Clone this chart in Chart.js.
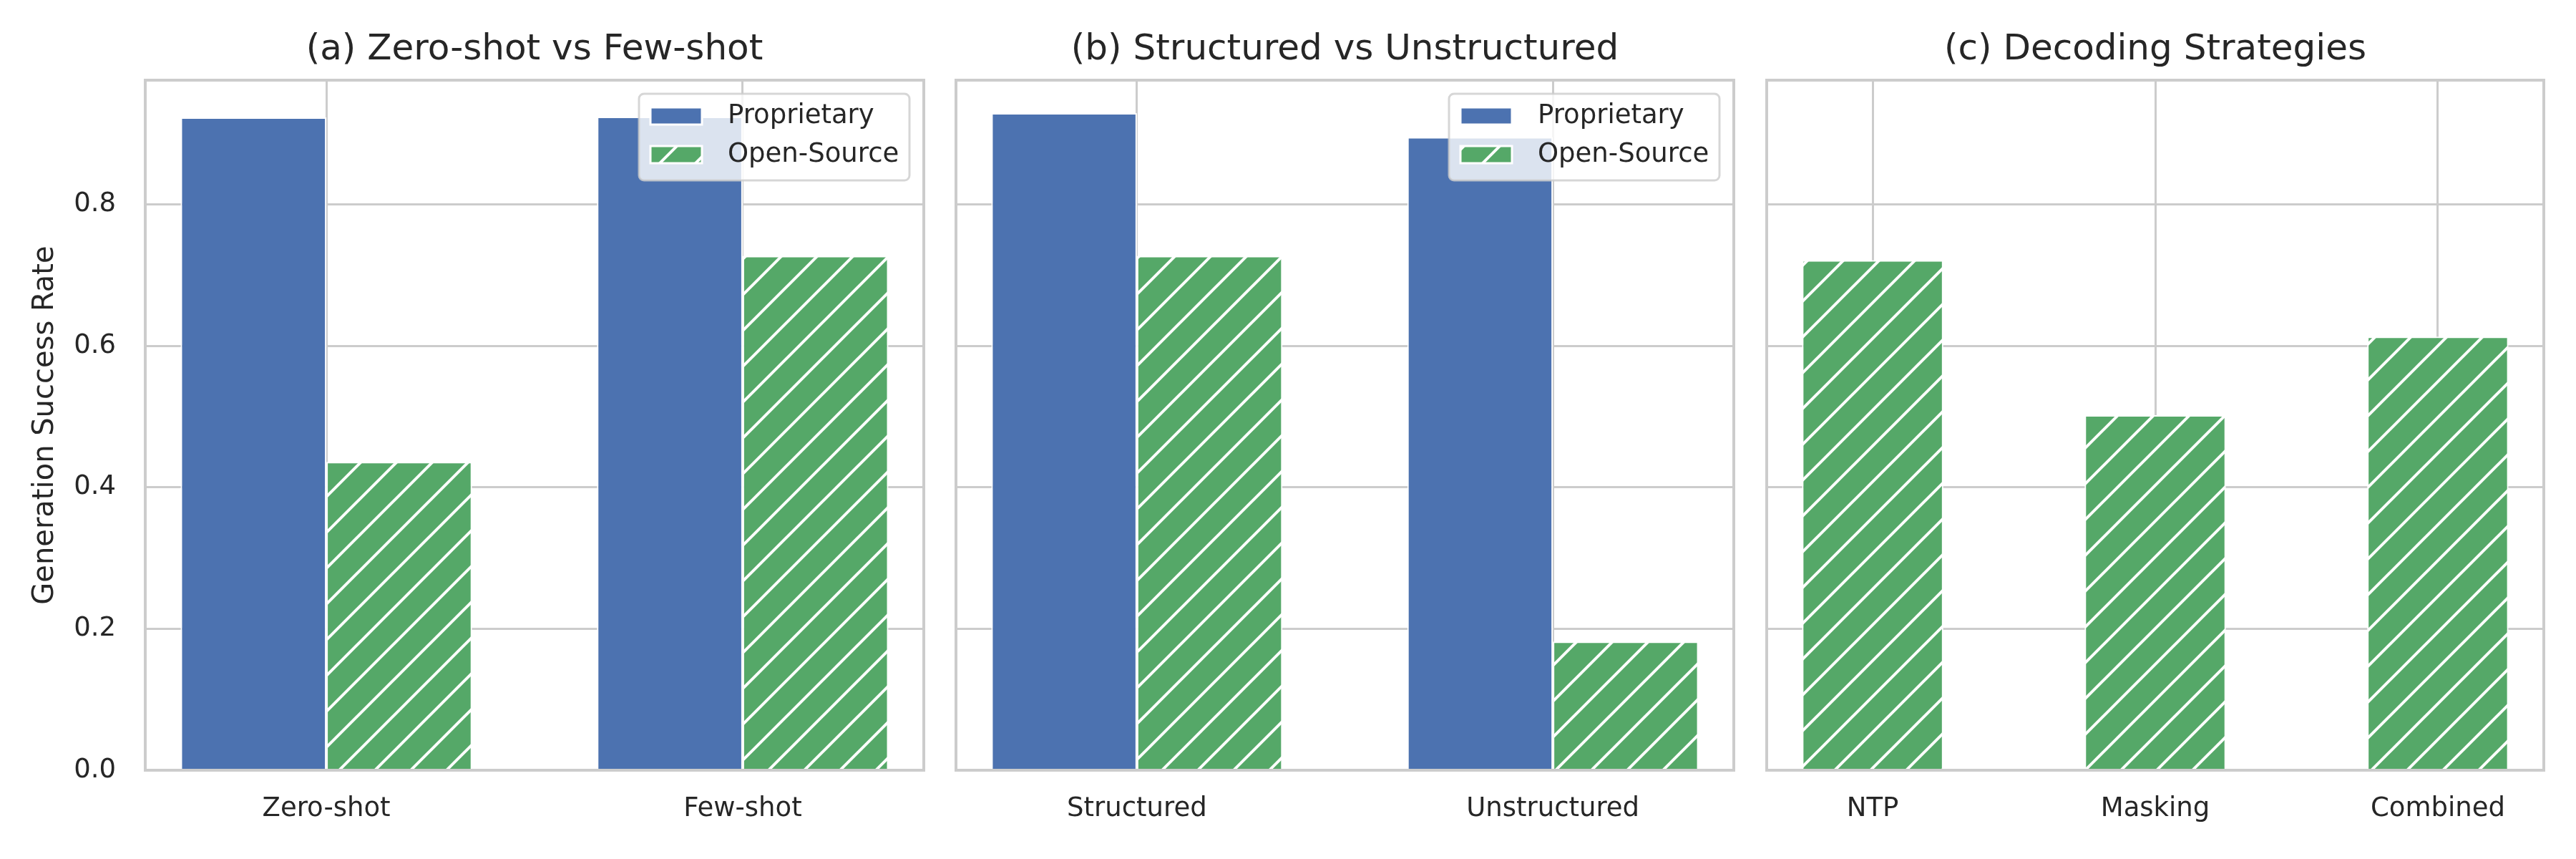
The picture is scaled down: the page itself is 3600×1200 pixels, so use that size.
<!DOCTYPE html>
<html lang="en">
<head>
  <meta charset="UTF-8" />
  <title>Generation Success Rate</title>
  <script src="https://cdn.jsdelivr.net/npm/chart.js"></script>
  <style>
    body { margin: 0; background: #fff; width: 3600px; height: 1200px; position: relative; overflow: hidden; }
    canvas { position: absolute; top: 0; }
  </style>
</head>
<body>
  <canvas id="chartA" width="1300" height="1200" style="left:0px"></canvas>
  <canvas id="chartB" width="1140" height="1200" style="left:1300px"></canvas>
  <canvas id="chartC" width="1160" height="1200" style="left:2440px"></canvas>
  <script>
    // data
    const seriesNames = ['Proprietary', 'Open-Source'];
    const shotCats = ['Zero-shot', 'Few-shot'];
    const shotProp = [0.923, 0.924];
    const shotOpen = [0.436, 0.727];
    const formatCats = ['Structured', 'Unstructured'];
    const formatProp = [0.929, 0.895];
    const formatOpen = [0.727, 0.182];
    const decodeCats = ['NTP', 'Masking', 'Combined'];
    const decodeOpen = [0.721, 0.502, 0.613];
    const yTicks = [0, 0.2, 0.4, 0.6, 0.8];
    const yMax = 0.9755;
    const titles = ['(a) Zero-shot vs Few-shot', '(b) Structured vs Unstructured', '(c) Decoding Strategies'];
    const yLabel = 'Generation Success Rate';

    const BLUE = '#4C72B0';
    const GREEN = '#55A868';
    const TEXT = '#262626';
    const GRID = '#cccccc';

    Chart.defaults.font.family = '"DejaVu Sans", sans-serif';

    // "/" hatch like matplotlib: white lines on green
    function hatch(color) {
      const c = document.createElement('canvas');
      c.width = 50; c.height = 50;
      const g = c.getContext('2d');
      g.fillStyle = color;
      g.fillRect(0, 0, 50, 50);
      g.strokeStyle = '#fff';
      g.lineWidth = 4;
      g.beginPath();
      g.moveTo(-10, 60); g.lineTo(60, -10);
      g.moveTo(-10, 10); g.lineTo(10, -10);
      g.moveTo(40, 60); g.lineTo(60, 40);
      g.stroke();
      return g.createPattern(c, 'repeat');
    }

    const toPoints = vals => vals.map((v, i) => ({ x: i, y: v }));

    // axes frame (spines) + in-axes legend box
    const frameAndLegend = {
      id: 'frameAndLegend',
      afterDatasetsDraw(chart) {
        const { ctx, chartArea: a } = chart;
        ctx.save();
        ctx.strokeStyle = GRID;
        ctx.lineWidth = 4;
        ctx.strokeRect(a.left, a.top, a.right - a.left, a.bottom - a.top);
        ctx.restore();
      },
      afterDraw(chart, args, opts) {
        if (!opts.show) return;
        const { ctx, chartArea: a } = chart;
        const w = 378, h = 121;
        const x = a.right - 20 - w, y = a.top + 19;
        ctx.save();
        ctx.beginPath();
        ctx.roundRect(x, y, w, h, 7);
        ctx.fillStyle = 'rgba(255,255,255,0.8)';
        ctx.fill();
        ctx.strokeStyle = 'rgba(204,204,204,0.8)';
        ctx.lineWidth = 3;
        ctx.stroke();
        chart.data.datasets.forEach((ds, i) => {
          const cy = y + 31 + i * 54;
          ctx.fillStyle = ds.backgroundColor;
          ctx.fillRect(x + 16, cy - 12, 72, 24);
          ctx.strokeStyle = '#fff';
          ctx.lineWidth = 3;
          ctx.strokeRect(x + 16, cy - 12, 72, 24);
          ctx.fillStyle = TEXT;
          ctx.font = '37px "DejaVu Sans"';
          ctx.textBaseline = 'middle';
          ctx.textAlign = 'left';
          ctx.fillText(ds.label, x + 124, cy);
        });
        ctx.restore();
      }
    };

    function buildChart(id, cats, datasets, cfg) {
      return new Chart(document.getElementById(id), {
        type: 'bar',
        data: { datasets },
        options: {
          responsive: false,
          animation: false,
          devicePixelRatio: 1,
          layout: { padding: { left: 0, right: cfg.padRight, top: 0, bottom: 0 } },
          datasets: {
            bar: { categoryPercentage: cfg.groupWidth, barPercentage: 1, borderColor: '#fff', borderWidth: 2 }
          },
          plugins: {
            legend: { display: false },
            tooltip: { enabled: false },
            title: {
              display: true, text: cfg.title, fullSize: false, color: TEXT,
              font: { size: 50, weight: 'normal', lineHeight: 1.2 },
              padding: { top: 40, bottom: 12 }
            },
            frameAndLegend: { show: cfg.legend }
          },
          scales: {
            x: {
              type: 'linear',
              min: -cfg.xPad,
              max: cats.length - 1 + cfg.xPad,
              offset: false,
              afterBuildTicks: s => { s.ticks = cats.map((c, i) => ({ value: i })); },
              afterFit: s => { s.height = 124; },
              ticks: {
                autoSkip: false, maxRotation: 0, padding: 32, color: TEXT,
                font: { size: 37 }, callback: v => cats[v]
              },
              grid: { offset: false, color: GRID, lineWidth: 3, drawTicks: false },
              border: { display: false }
            },
            y: {
              min: 0,
              max: yMax,
              afterBuildTicks: s => { s.ticks = yTicks.map(v => ({ value: v })); },
              afterFit: s => { s.width = cfg.yWidth; },
              ticks: {
                display: cfg.yLabels, padding: 41, color: TEXT,
                font: { size: 37 }, callback: v => v.toFixed(1)
              },
              grid: { color: GRID, lineWidth: 3, drawTicks: false },
              border: { display: false },
              title: {
                display: cfg.yLabels, text: yLabel, color: TEXT,
                font: { size: 40 }, padding: { top: 40, bottom: 0 }
              }
            }
          }
        },
        plugins: [frameAndLegend]
      });
    }

    // (a) zero-shot vs few-shot
    buildChart('chartA', shotCats, [
      { label: seriesNames[0], data: toPoints(shotProp), backgroundColor: BLUE },
      { label: seriesNames[1], data: toPoints(shotOpen), backgroundColor: hatch(GREEN) }
    ], { title: titles[0], padRight: 9, yWidth: 203, yLabels: true, legend: true, xPad: 0.435, groupWidth: 0.7 });

    // (b) structured vs unstructured
    buildChart('chartB', formatCats, [
      { label: seriesNames[0], data: toPoints(formatProp), backgroundColor: BLUE },
      { label: seriesNames[1], data: toPoints(formatOpen), backgroundColor: hatch(GREEN) }
    ], { title: titles[1], padRight: 17, yWidth: 36, yLabels: false, legend: true, xPad: 0.435, groupWidth: 0.7 });

    // (c) decoding strategies, open-source only
    buildChart('chartC', decodeCats, [
      { label: seriesNames[1], data: toPoints(decodeOpen), backgroundColor: hatch(GREEN) }
    ], { title: titles[2], padRight: 45, yWidth: 29, yLabels: false, legend: false, xPad: 0.375, groupWidth: 0.5 });
  </script>
</body>
</html>
